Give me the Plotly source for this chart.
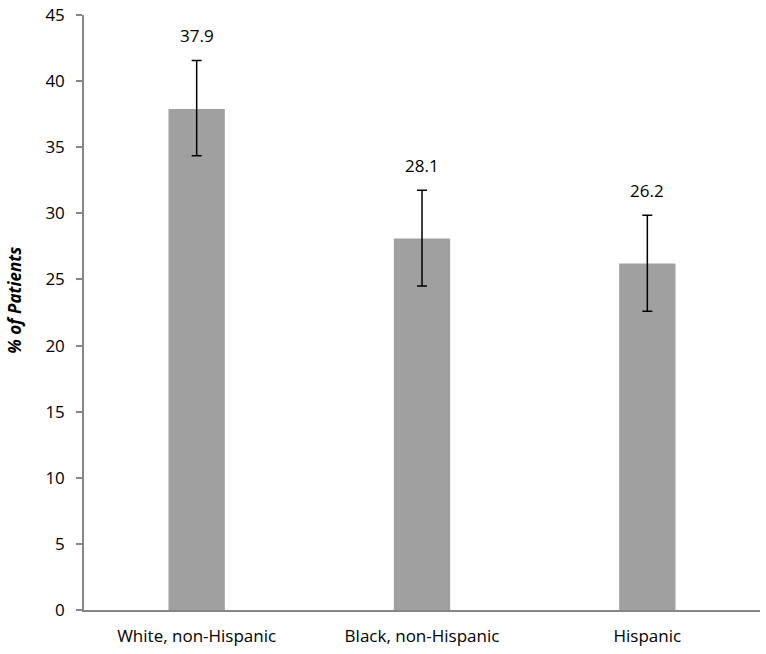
import plotly.graph_objects as go

categories = ["White, non-Hispanic", "Black, non-Hispanic", "Hispanic"]
values = [37.9, 28.1, 26.2]
err_plus = [3.65, 3.65, 3.65]
err_minus = [3.55, 3.6, 3.6]
value_labels = ["37.9", "28.1", "26.2"]
y_ticks = [0, 5, 10, 15, 20, 25, 30, 35, 40, 45]

FONT = "Open Sans"

fig = go.Figure()
fig.add_trace(go.Bar(
    x=categories, y=values,
    marker=dict(color="#A0A0A0", line=dict(width=0)),
    width=0.25,
    error_y=dict(type="data", symmetric=False, array=err_plus, arrayminus=err_minus,
                 color="#000000", thickness=1.5, width=5),
    hoverinfo="skip",
))

for c, v, e, t in zip(categories, values, err_plus, value_labels):
    fig.add_annotation(x=c, y=v + e, text=t, showarrow=False, yanchor="middle",
                       yshift=25, font=dict(family=FONT, size=17, color="#000000"))

fig.add_annotation(xref="paper", yref="paper", x=-0.102, xanchor="center",
                   y=0.52, yanchor="middle", textangle=-90,
                   text="<b><i>% of Patients</i></b>", showarrow=False,
                   font=dict(family=FONT, size=17, color="#000000"))

fig.update_layout(
    width=766, height=654,
    margin=dict(l=84, r=6, t=15, b=44),
    paper_bgcolor="white", plot_bgcolor="white",
    showlegend=False,
    bargap=0.75,
    xaxis=dict(showline=True, linecolor="#868686", linewidth=1.5, ticks="",
               ticklabelstandoff=10,
               tickfont=dict(family=FONT, size=17, color="#000000"),
               showgrid=False, zeroline=False, fixedrange=True, automargin=False),
    yaxis=dict(range=[0, 45], tickvals=y_ticks, showline=True, linecolor="#868686",
               linewidth=1.5, ticks="outside", ticklen=6, tickcolor="#868686",
               tickwidth=1.5, ticklabelstandoff=8, automargin=False,
               ticklabeloverflow="allow", fixedrange=True,
               tickfont=dict(family=FONT, size=17, color="#000000"),
               showgrid=False, zeroline=False),
)

fig.write_html("out.html", config={"displayModeBar": False},
               post_script="document.body.style.margin='0';")
